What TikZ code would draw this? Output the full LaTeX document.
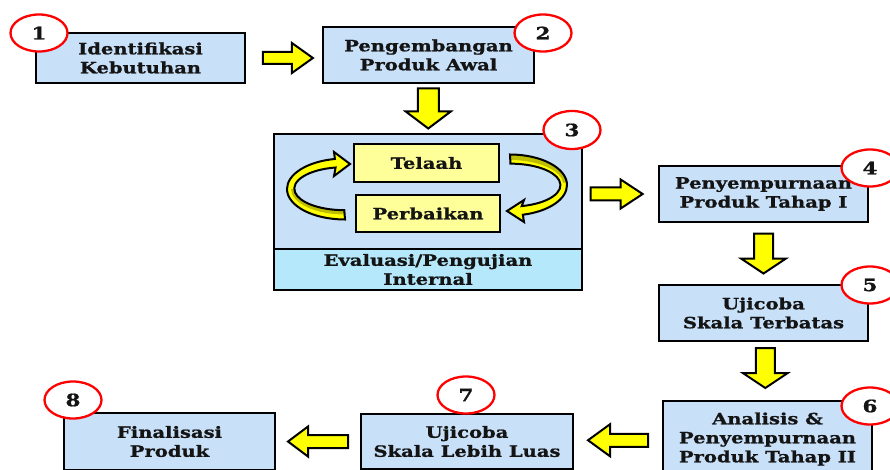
\documentclass[tikz,border=0pt]{standalone}
\usepackage{fontspec}
\setmainfont{DejaVu Serif}[FakeStretch=1.26,FakeBold=1]
\usetikzlibrary{shapes.geometric,calc}
\definecolor{boxblue}{RGB}{200,224,248}
\definecolor{bandcyan}{RGB}{180,232,250}
\definecolor{lightyel}{RGB}{255,255,153}
\definecolor{ayellow}{RGB}{255,255,0}
\definecolor{olivey}{RGB}{190,190,0}
\definecolor{txtc}{RGB}{20,20,20}
\newcommand\dtxt{\fontsize{15.5}{19}\selectfont\bfseries\color{txtc}}
\newcommand\ntxt{\fontsize{17}{19}\selectfont\bfseries\color{txtc}}
\newcommand\lcurve{(345,219.5) arc[start angle=-270, end angle=-100, x radius=58, y radius=30.5] -- (334,152) -- (350,164) -- (334,176) -- (335.6,167.5) arc[start angle=-100, end angle=-270, x radius=50, y radius=21.5] -- cycle}
\newcommand\rcurve{(510,154.5) arc[start angle=-90, end angle=77, x radius=57, y radius=30.5] -- (524,222) -- (507,211) -- (524,200) -- (521.7,206.1) arc[start angle=77, end angle=-90, x radius=50, y radius=21.5] -- cycle}
\begin{document}
\begin{tikzpicture}[x=1pt,y=-1pt,
  box/.style={draw=black, line width=2.5pt, fill=boxblue, align=center, inner sep=0pt, outer sep=0pt, font=\dtxt},
  ybox/.style={box, fill=lightyel},
  num/.style={ellipse, draw=red, line width=2.3pt, fill=white, minimum width=57pt, minimum height=37pt, inner sep=0pt, font=\ntxt},
  blk/.style={fill=ayellow, draw=black, line width=2pt, line join=miter},
  pics/barrow/.style n args={4}{code={%
    \draw[blk] ({-#1/2},{-#2}) -- ({#1/2-#4},{-#2}) -- ({#1/2-#4},{-#3}) -- ({#1/2},0) -- ({#1/2-#4},{#3}) -- ({#1/2-#4},{#2}) -- ({-#1/2},{#2}) -- cycle;}}]
\useasboundingbox (0,0) rectangle (890,470);
\fill[white] (0,0) rectangle (890,470);

% boxes
\node[box, minimum width=209, minimum height=50] (b1) at (140.5,58) {Identifikasi\\Kebutuhan};
\node[box, minimum width=211, minimum height=56] (b2) at (428.5,55) {Pengembangan\\Produk Awal};
\node[box, minimum width=308, minimum height=156] (b3) at (428,212) {};
\node[box, fill=bandcyan, minimum width=308, minimum height=41, anchor=south] (b3l) at (b3.south) {Evaluasi/Pengujian\\Internal};
\node[ybox, minimum width=145, minimum height=38] (tel) at (426.5,163) {Telaah};
\node[ybox, minimum width=144, minimum height=37] (per) at (428,213.5) {Perbaikan};
\node[box, minimum width=209, minimum height=56] (b4) at (763.5,194) {Penyempurnaan\\Produk Tahap I};
\node[box, minimum width=209, minimum height=56] (b5) at (763.5,313) {Ujicoba\\Skala Terbatas};
\node[box, minimum width=209, minimum height=76] (b6) at (767.5,439) {Analisis \&\\Penyempurnaan\\Produk Tahap II};
\node[box, minimum width=212, minimum height=55] (b7) at (467,441.5) {Ujicoba\\Skala Lebih Luas};
\node[box, minimum width=211, minimum height=57] (b8) at (169.5,441.5) {Finalisasi\\Produk};

% curved arrows inside box 3
\fill[ayellow] \lcurve;
\fill[olivey] (295,189) arc[start angle=-180, end angle=-270, x radius=50, y radius=21.5] -- (345,214.5) arc[start angle=-270, end angle=-180, x radius=54, y radius=25.5] -- cycle;
\draw[black, line width=2pt, line join=miter] \lcurve;
\fill[ayellow] \rcurve;
\fill[olivey] (510,154.5) arc[start angle=-90, end angle=-5, x radius=57, y radius=30.5] -- ($(510,185)+(-5:53.5 and 25)$) arc[start angle=-5, end angle=-90, x radius=53.5, y radius=25] -- cycle;
\draw[black, line width=2pt, line join=miter] \rcurve;

% block arrows between boxes
\pic at ($(b1.east)!0.55!(b2.west |- b1.east)$) {barrow={50}{6}{15}{21}};
\pic[rotate=-90] at ($(b2.south)!0.5!(b3.north)$) {barrow={40}{10.5}{22.5}{17}};
\pic at ($(b3.east |- b4.west)!0.45!(b4.west)$) {barrow={52}{6.5}{14.5}{22}};
\pic[rotate=-90] at ($(b4.south)!0.5!(b5.north)$) {barrow={40}{9.5}{22.5}{15}};
\pic[rotate=-90] at ($(b5.south)!0.45!(b6.north)$) {barrow={40}{9.5}{22.5}{15}};
\pic[rotate=180] at ($(b6.west)!0.5!(b7.east)$) {barrow={60}{6.5}{16}{22}};
\pic[rotate=180] at ($(b7.west)!0.5!(b8.east)$) {barrow={60}{6.5}{15}{20}};

% number ellipses
\node[num] (n1) at (39,33) {1};
\node[num] (n2) at (543,33) {2};
\node[num, minimum height=38] (n3) at (572,130) {3};
\node[num] (n4) at (870,168) {4};
\node[num] (n5) at (870,285) {5};
\node[num] (n6) at (870,406) {6};
\node[num] (n7) at (466,395) {7};
\node[num] (n8) at (73,400) {8};
\end{tikzpicture}
\end{document}
